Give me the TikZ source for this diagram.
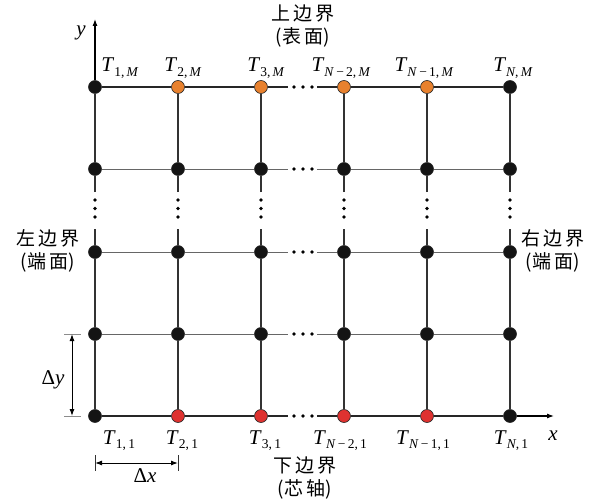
\documentclass[tikz,border=0pt]{standalone}
\usepackage{fontspec}
\setmainfont{Liberation Serif}
\newfontfamily\cjk{Noto Sans CJK SC}
\usetikzlibrary{arrows.meta}
\definecolor{orgc}{HTML}{E8812E}
\definecolor{redc}{HTML}{DE3230}
\newcommand{\Tlab}[1]{\textit{T}\raisebox{-0.42ex}{\fontsize{13.5}{13.5}\selectfont #1}}
\tikzset{
 gridpt/.style={circle,draw=black!85,line width=0.6pt,minimum size=13pt,inner sep=0pt},
 vline/.style={line width=1.1pt,draw=black!80},
 hline/.style={line width=0.8pt,draw=black!60},
 bline/.style={line width=1.1pt,draw=black!85},
 tick/.style={line width=0.6pt,draw=black!45},
 dimarrow/.style={line width=1pt,{Latex[length=7pt,width=5pt]}-{Latex[length=7pt,width=5pt]}},
 axarrow/.style={line width=1.1pt,-{Latex[length=7pt,width=5pt]}},
 lab/.style={font=\fontsize{21}{21}\selectfont,inner sep=0pt,anchor=base},
 cjkl/.style={font=\cjk\fontsize{19}{23}\selectfont,align=center,inner sep=0pt},
}
\begin{document}
\begin{tikzpicture}[x=1pt,y=-1pt]
\useasboundingbox (0,0) rectangle (595,503);
% nodes
\foreach \i/\x in {1/95,2/178,3/261,4/344,5/427,6/510}{
 \foreach \j/\y in {1/416,2/334,3/252,4/169,5/87}{
  \def\fc{black!92}
  \ifnum\i>1 \ifnum\i<6 \ifnum\j=5 \def\fc{orgc}\fi \ifnum\j=1 \def\fc{redc}\fi \fi\fi
  \node[gridpt,fill=\fc] (n\i\j) at (\x,\y) {};
 }
 \coordinate (vgA\i) at (\x,192);
 \coordinate (vgB\i) at (\x,229);
}
\foreach \j/\y in {1/416,2/334,3/252,4/169,5/87}{
 \coordinate (hgA\j) at (288,\y);
 \coordinate (hgB\j) at (317,\y);
}
% horizontal lines
\foreach \j/\st in {2/hline,3/hline,4/hline,5/bline,1/bline}{
 \draw[\st] (n1\j) -- (n2\j);
 \draw[\st] (n2\j) -- (n3\j);
 \draw[\st] (n3\j) -- (hgA\j);
 \draw[\st] (hgB\j) -- (n4\j);
 \draw[\st] (n4\j) -- (n5\j);
 \draw[\st] (n5\j) -- (n6\j);
}
\foreach \y in {416,334,252,169,87}{
 \foreach \x in {294,303,312}{\fill (\x,\y) circle (1.9);}
}
% vertical lines
\foreach \i in {1,...,6}{
 \draw[vline] (n\i1) -- (n\i2);
 \draw[vline] (n\i2) -- (n\i3);
 \draw[vline] (n\i3) -- (vgB\i);
 \draw[vline] (vgA\i) -- (n\i4);
 \draw[vline] (n\i4) -- (n\i5);
}
\foreach \x in {95,178,261,344,427,510}{
 \foreach \y in {200,208.5,217}{\fill (\x,\y) circle (1.9);}
}
% axes
\coordinate (xend) at (554,416);
\coordinate (yend) at (95,19);
\draw[axarrow] (n61) -- (xend);
\draw[axarrow] (n15) -- (yend);
\node[lab,font=\fontsize{21}{21}\selectfont\itshape] (xl) at (553,440) {x};
\node[lab,font=\fontsize{21}{21}\selectfont\itshape] (yl) at (81,36) {y};
% top labels
\node[lab] (t1M) at (120,72) {\Tlab{1,\,\textit{M}}};
\node[lab] (t2M) at (183,72) {\Tlab{2,\,\textit{M}}};
\node[lab] (t3M) at (266,72) {\Tlab{3,\,\textit{M}}};
\node[lab] (t4M) at (341,72) {\Tlab{\textit{N}\,−\,2,\,\textit{M}}};
\node[lab] (t5M) at (424,72) {\Tlab{\textit{N}\,−\,1,\,\textit{M}}};
\node[lab] (t6M) at (513,72) {\Tlab{\textit{N},\,\textit{M}}};
% bottom labels
\node[lab] (t11) at (119,444) {\Tlab{1,\,1}};
\node[lab] (t21) at (182,444) {\Tlab{2,\,1}};
\node[lab] (t31) at (265,444) {\Tlab{3,\,1}};
\node[lab] (t41) at (340,444) {\Tlab{\textit{N}\,−\,2,\,1}};
\node[lab] (t51) at (423,444) {\Tlab{\textit{N}\,−\,1,\,1}};
\node[lab] (t61) at (511,444) {\Tlab{\textit{N},\,1}};
% boundary labels
\node[cjkl] (top) at (303,26) {上\,边\,界\\(表\,面)};
\node[cjkl] (left) at (48,251) {左\,边\,界\\(端\,面)};
\node[cjkl] (right) at (553,251) {右\,边\,界\\(端\,面)};
\node[cjkl] (bottom) at (305,478) {下\,边\,界\\(芯\,轴)};
% dimension dy
\coordinate (dyA) at (72,334);
\coordinate (dyB) at (72,416);
\coordinate (dyt1a) at (64,334); \coordinate (dyt1b) at (81,334);
\coordinate (dyt2a) at (64,416); \coordinate (dyt2b) at (81,416);
\draw[tick] (dyt1a) -- (dyt1b);
\draw[tick] (dyt2a) -- (dyt2b);
\draw[dimarrow] (dyA) -- (dyB);
\node[lab,anchor=center] (dyl) at (53,380) {Δ\textit{y}};
% dimension dx
\coordinate (dxA) at (95,463);
\coordinate (dxB) at (178,463);
\coordinate (dxt1a) at (95,455); \coordinate (dxt1b) at (95,471);
\coordinate (dxt2a) at (178,455); \coordinate (dxt2b) at (178,471);
\draw[tick,draw=black!80] (dxt1a) -- (dxt1b);
\draw[tick,draw=black!80] (dxt2a) -- (dxt2b);
\draw[dimarrow] (dxA) -- (dxB);
\node[lab,anchor=center] (dxl) at (145,476) {Δ\textit{x}};
\end{tikzpicture}
\end{document}
